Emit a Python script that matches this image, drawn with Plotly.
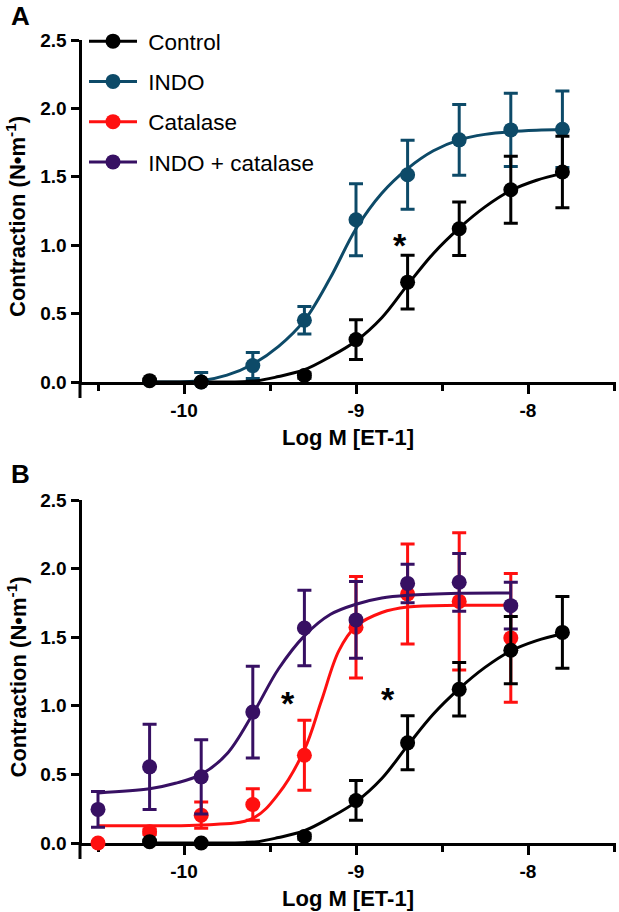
import plotly.graph_objects as go

FONT = "Liberation Sans, Arial, Helvetica, sans-serif"

# colours
BLACK = "#000000"
TEAL = "#0d4a68"
RED = "#ff1010"
PURPLE = "#371063"

# ---- panel A / control data (mean, SEM) ----
log_conc = [-10.2, -9.9, -9.6, -9.3, -9.0, -8.7, -8.4, -8.1, -7.8]
control_mean = [0.01, 0.0, -0.005, 0.047, 0.31, 0.73, 1.12, 1.405, 1.535]
control_sem = [0.01, 0.01, 0.01, 0.02, 0.145, 0.197, 0.195, 0.245, 0.262]
indo_mean = [-0.01, 0.0, 0.12, 0.451, 1.186, 1.515, 1.77, 1.843, 1.848]
indo_sem = [0.01, 0.07, 0.095, 0.1, 0.263, 0.252, 0.258, 0.268, 0.28]

# ---- panel B data ----
log_conc_b = [-10.5, -10.2, -9.9, -9.6, -9.3, -9.0, -8.7, -8.4, -8.1]
catalase_mean = [0.0, 0.082, 0.203, 0.281, 0.64, 1.572, 1.815, 1.761, 1.495]
catalase_sem = [0.01, 0.02, 0.095, 0.115, 0.255, 0.37, 0.365, 0.5, 0.47]
indo_cat_mean = [0.245, 0.555, 0.482, 0.954, 1.567, 1.626, 1.892, 1.90, 1.73]
indo_cat_sem = [0.13, 0.31, 0.27, 0.335, 0.275, 0.28, 0.14, 0.21, 0.17]

# ---- fitted curves ----
control_fit_x = [-10.2, -9.9, -9.6, -9.45, -9.3, -9.15, -9.0, -8.85, -8.7,
                 -8.55, -8.4, -8.25, -8.1, -7.95, -7.8]
control_fit_y = [0.0, 0.0, 0.005, 0.04, 0.09, 0.185, 0.30, 0.47, 0.71,
                 0.94, 1.125, 1.28, 1.40, 1.475, 1.525]
indo_fit_x = [-10.2, -9.9, -9.75, -9.6, -9.45, -9.3, -9.15, -9.0, -8.85,
              -8.7, -8.55, -8.4, -8.25, -8.1, -7.95, -7.8]
indo_fit_y = [0.0, 0.01, 0.05, 0.13, 0.26, 0.45, 0.76, 1.12, 1.38,
              1.56, 1.69, 1.77, 1.81, 1.83, 1.84, 1.845]
indo_cat_fit_x = [-10.5, -10.2, -10.05, -9.9, -9.75, -9.6, -9.45, -9.3,
                  -9.15, -9.0, -8.85, -8.7, -8.4, -8.1]
indo_cat_fit_y = [0.365, 0.395, 0.435, 0.50, 0.65, 0.94, 1.27, 1.51,
                  1.665, 1.74, 1.785, 1.805, 1.82, 1.822]
catalase_fit_x = [-10.5, -10.2, -9.9, -9.6, -9.45, -9.3, -9.2, -9.1, -9.0,
                  -8.85, -8.7, -8.4, -8.1]
catalase_fit_y = [0.125, 0.126, 0.131, 0.18, 0.36, 0.68, 1.04, 1.40, 1.58,
                  1.68, 1.72, 1.732, 1.733]

legend_names = ["Control", "INDO", "Catalase", "INDO + catalase"]
y_ticks = [0.0, 0.5, 1.0, 1.5, 2.0, 2.5]
x_ticks = [-10, -9, -8]
x_minor = [-10.5, -9.5, -8.5, -7.5]

fig = go.Figure()


def add_series(x, y, err, fx, fy, color, xa, ya):
  fig.add_trace(go.Scatter(
      x=fx, y=fy, mode="lines", line=dict(color=color, width=3, shape="spline"),
      xaxis=xa, yaxis=ya, showlegend=False, cliponaxis=False, hoverinfo="skip"))
  fig.add_trace(go.Scatter(
      x=x, y=y, mode="markers", marker=dict(color=color, size=15),
      error_y=dict(type="data", array=err, color=color, thickness=3, width=7),
      xaxis=xa, yaxis=ya, showlegend=False, cliponaxis=False))


# legend-only entries
for name, color in zip(legend_names, [BLACK, TEAL, RED, PURPLE]):
  fig.add_trace(go.Scatter(
      x=[None], y=[None], mode="lines+markers", name="\u00a0" + name,
      legendgroup=name,
      line=dict(color=color, width=3), marker=dict(color=color, size=15),
      xaxis="x", yaxis="y"))

add_series(log_conc, indo_mean, indo_sem, indo_fit_x, indo_fit_y, TEAL, "x", "y")
add_series(log_conc, control_mean, control_sem, control_fit_x, control_fit_y,
           BLACK, "x", "y")
add_series(log_conc_b, catalase_mean, catalase_sem, catalase_fit_x,
           catalase_fit_y, RED, "x2", "y2")
add_series(log_conc_b, indo_cat_mean, indo_cat_sem, indo_cat_fit_x,
           indo_cat_fit_y, PURPLE, "x2", "y2")
add_series(log_conc, control_mean, control_sem, control_fit_x, control_fit_y,
           BLACK, "x2", "y2")

W, H = 619, 912
x_dom = [81.5 / W, 616 / W]
x_range = [-10 - (184 - 81.5) / 172, -7.5 + 2 / 172]

tick_font = dict(family=FONT, size=19, color="black", weight="bold")
xaxis_style = dict(
    range=x_range, domain=x_dom, showline=True, linewidth=3, linecolor="black",
    ticks="outside", ticklen=9, tickwidth=3, tickcolor="black",
    tickvals=x_ticks, ticktext=[str(v) for v in x_ticks], tickfont=tick_font,
    minor=dict(tickvals=x_minor, ticks="outside", ticklen=6, tickwidth=3,
               tickcolor="black"),
    showgrid=False, zeroline=False, layer="below traces", fixedrange=True,
    automargin=False)
yaxis_style = dict(
    range=[0, 2.5], showline=True, linewidth=3, linecolor="black",
    ticks="outside", ticklen=8, tickwidth=3, tickcolor="black",
    tickvals=y_ticks, ticktext=["%.1f" % v for v in y_ticks],
    tickfont=tick_font, showgrid=False, zeroline=False, layer="below traces",
    fixedrange=True, automargin=False)

a_top, a_bot = 40, 382
b_top, b_bot = 500, 843

fig.update_layout(
    width=W, height=H,
    margin=dict(l=0, r=0, t=0, b=0, pad=0, autoexpand=False),
    paper_bgcolor="white", plot_bgcolor="white",
    font=dict(family=FONT, color="black"),
    xaxis=dict(xaxis_style, anchor="y"),
    yaxis=dict(yaxis_style, anchor="x", domain=[1 - a_bot / H, 1 - a_top / H]),
    xaxis2=dict(xaxis_style, anchor="y2"),
    yaxis2=dict(yaxis_style, anchor="x2", domain=[1 - b_bot / H, 1 - b_top / H]),
    legend=dict(x=84 / W, y=1 - 20 / H, xanchor="left", yanchor="top",
                font=dict(family=FONT, size=22.5, color="black"),
                bgcolor="rgba(0,0,0,0)", tracegroupgap=8, itemwidth=48),
    showlegend=True,
)

# y-axis stubs below zero
for xr, yr, plot_h in [("x domain", "y domain", a_bot - a_top),
                       ("x2 domain", "y2 domain", b_bot - b_top)]:
  fig.add_shape(type="line", xref=xr, yref=yr, x0=-1.5 / 534, x1=-1.5 / 534,
                y0=0, y1=-16 / plot_h, line=dict(color="black", width=3))

title_font = dict(family=FONT, size=22, color="black", weight="bold")
annos = []


def paper_text(px, py, text, font, angle=0):
  annos.append(dict(x=px / W, y=1 - py / H, xref="paper", yref="paper",
                    xanchor="center", yanchor="middle", text=text,
                    textangle=angle, showarrow=False, font=font))


label_font = dict(family=FONT, size=26, color="black", weight="bold")
for top, bot, lbl, lbl_y in [(a_top, a_bot, "A", 16.5),
                             (b_top, b_bot, "B", 473.5)]:
  paper_text(20, lbl_y, lbl, label_font)
  paper_text(16, (top + bot) / 2 + 6, "Contraction (N\u2022m<sup>-1</sup>)",
             title_font, -90)
  paper_text(348, bot + 55, "Log M [ET-1]", title_font)

star_font = dict(family=FONT, size=34, color="black", weight="bold")
for xr, yr, sx, sy in [("x", "y", -8.744, 1.0), ("x2", "y2", -9.394, 1.024),
                       ("x2", "y2", -8.812, 1.048)]:
  annos.append(dict(x=sx, y=sy, xref=xr, yref=yr, text="*", showarrow=False,
                    xanchor="center", yanchor="middle", font=star_font))

fig.update_layout(annotations=annos)

fig.write_html("out.html",
               config={"responsive": False, "displayModeBar": False},
               post_script="document.body.style.margin='0';")
